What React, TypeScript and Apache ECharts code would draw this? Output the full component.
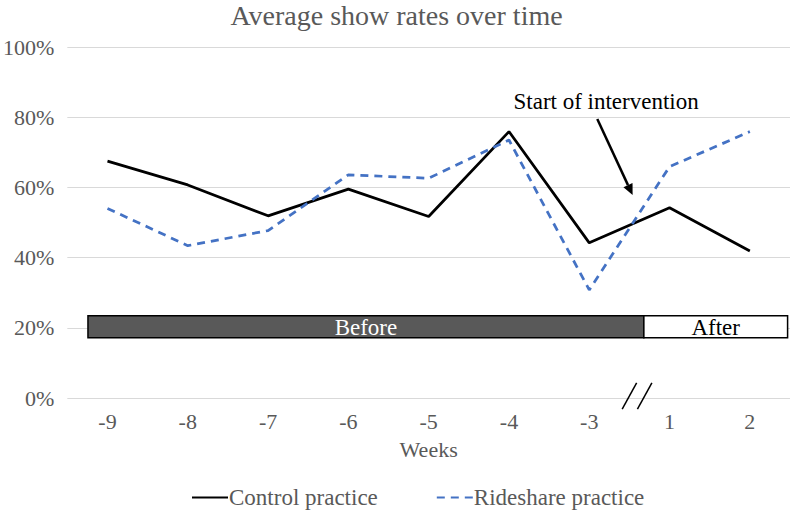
import React, { useEffect, useRef } from "react";
import * as echarts from "echarts";

const weeks = ["-9", "-8", "-7", "-6", "-5", "-4", "-3", "1", "2"];
const controlPractice = [67.5, 60.7, 51.9, 59.5, 51.7, 75.9, 44.2, 54.2, 41.9];
const ridesharePractice = [54.0, 43.4, 47.7, 63.6, 62.6, 73.5, 30.8, 65.9, 75.9];
const seriesNames = ["Control practice", "Rideshare practice"];

// period bands in category-index units (x) and percent (y)
const periodLabels = ["Before", "After"];
const periodEdges = [-0.243, 6.68, 8.47];
const periodY = [17.2, 23.4];
// "Start of intervention" arrow (index units, percent)
const arrowFrom = [6.1, 79.5];
const arrowTo = [6.54, 57.8];
const annotationText = "Start of intervention";
const annotationPos = [6.21, 84.4];
// axis break marks
const breakMarks = [
  [6.41, -3.2, 6.59, 4.3],
  [6.6, -3.2, 6.78, 4.3],
];

const FONT = "Times New Roman";
const GRAY = "#595959";

export default function App() {
  const ref = useRef<HTMLDivElement>(null);
  useEffect(() => {
    if (!ref.current) return;
    const chart = echarts.init(ref.current, null, { renderer: "svg" });
    chart.setOption({
      animation: false,
      backgroundColor: "#fff",
      title: {
        text: "Average show rates over time",
        left: "center",
        top: -4,
        textStyle: { fontFamily: FONT, fontSize: 28, fontWeight: "normal", color: GRAY },
      },
      legend: {
        data: seriesNames,
        top: 481,
        left: 186,
        itemWidth: 36,
        itemHeight: 12,
        itemGap: 58,
        itemStyle: { opacity: 0 },
        textStyle: { fontFamily: FONT, fontSize: 23, color: GRAY, padding: [0, 0, 0, -4] },
      },
      grid: { left: 64, right: 3, top: 47, bottom: 114, containLabel: false },
      xAxis: [
        {
          type: "category",
          data: weeks,
          boundaryGap: true,
          name: "Weeks",
          nameLocation: "middle",
          nameGap: 40,
          nameTextStyle: { fontFamily: FONT, fontSize: 22, color: GRAY },
          axisLine: { show: false },
          axisTick: { show: false },
          axisLabel: { fontFamily: FONT, fontSize: 22, color: GRAY, margin: 12 },
        },
        {
          type: "value",
          min: -0.5,
          max: 8.5,
          show: false,
        },
      ],
      yAxis: {
        type: "value",
        min: 0,
        max: 100,
        interval: 20,
        axisLine: { show: false },
        axisTick: { show: false },
        axisLabel: {
          formatter: "{value}%",
          fontFamily: FONT,
          fontSize: 22,
          color: GRAY,
          margin: 13,
        },
        splitLine: { lineStyle: { color: "#d9d9d9", width: 1 } },
      },
      series: [
        {
          name: seriesNames[0],
          type: "line",
          data: controlPractice,
          symbol: "none",
          lineStyle: { color: "#000", width: 2.75 },
          itemStyle: { color: "#000" },
          z: 3,
        },
        {
          name: seriesNames[1],
          type: "line",
          data: ridesharePractice,
          symbol: "none",
          lineStyle: { color: "#4472c4", width: 2.75, type: [8, 6] },
          itemStyle: { color: "#4472c4" },
          z: 3,
        },
        {
          type: "custom",
          xAxisIndex: 1,
          yAxisIndex: 0,
          silent: true,
          clip: false,
          z: 5,
          data: [0],
          renderItem: (_params: any, api: any) => {
            const children: any[] = [];
            const yTop = api.coord([0, periodY[1]])[1];
            const yBot = api.coord([0, periodY[0]])[1];
            for (let i = 0; i < periodLabels.length; i++) {
              const x0 = api.coord([periodEdges[i], 0])[0];
              const x1 = api.coord([periodEdges[i + 1], 0])[0];
              const dark = i === 0;
              children.push({
                type: "rect",
                shape: { x: x0, y: yTop, width: x1 - x0, height: yBot - yTop },
                style: { fill: dark ? GRAY : "#fff", stroke: "#000", lineWidth: 1.5 },
              });
              children.push({
                type: "text",
                x: (x0 + x1) / 2,
                y: (yTop + yBot) / 2 + 1,
                style: {
                  text: periodLabels[i],
                  fill: dark ? "#fff" : "#000",
                  fontFamily: FONT,
                  fontSize: 23,
                  align: "center",
                  verticalAlign: "middle",
                },
              });
            }
            for (const b of breakMarks) {
              const p0 = api.coord([b[0], b[1]]);
              const p1 = api.coord([b[2], b[3]]);
              children.push({
                type: "line",
                shape: { x1: p0[0], y1: p0[1], x2: p1[0], y2: p1[1] },
                style: { stroke: "#000", lineWidth: 1.5 },
              });
            }
            const a0 = api.coord(arrowFrom);
            const a1 = api.coord(arrowTo);
            const dx = a1[0] - a0[0];
            const dy = a1[1] - a0[1];
            const len = Math.sqrt(dx * dx + dy * dy);
            const ux = dx / len;
            const uy = dy / len;
            const headLen = 11;
            const headW = 5;
            const bx = a1[0] - ux * headLen;
            const by = a1[1] - uy * headLen;
            children.push({
              type: "line",
              shape: { x1: a0[0], y1: a0[1], x2: bx, y2: by },
              style: { stroke: "#000", lineWidth: 2.5 },
            });
            children.push({
              type: "polygon",
              shape: {
                points: [
                  [a1[0], a1[1]],
                  [bx - uy * headW, by + ux * headW],
                  [bx + uy * headW, by - ux * headW],
                ],
              },
              style: { fill: "#000" },
            });
            const t = api.coord(annotationPos);
            children.push({
              type: "text",
              x: t[0],
              y: t[1],
              style: {
                text: annotationText,
                fill: "#000",
                fontFamily: FONT,
                fontSize: 23,
                align: "center",
                verticalAlign: "middle",
              },
            });
            return { type: "group", children };
          },
        },
      ],
    });
    return () => chart.dispose();
  }, []);
  return (
    <div
      ref={ref}
      style={{ position: "fixed", left: 0, top: 0, width: 793, height: 512, background: "#fff" }}
    />
  );
}
